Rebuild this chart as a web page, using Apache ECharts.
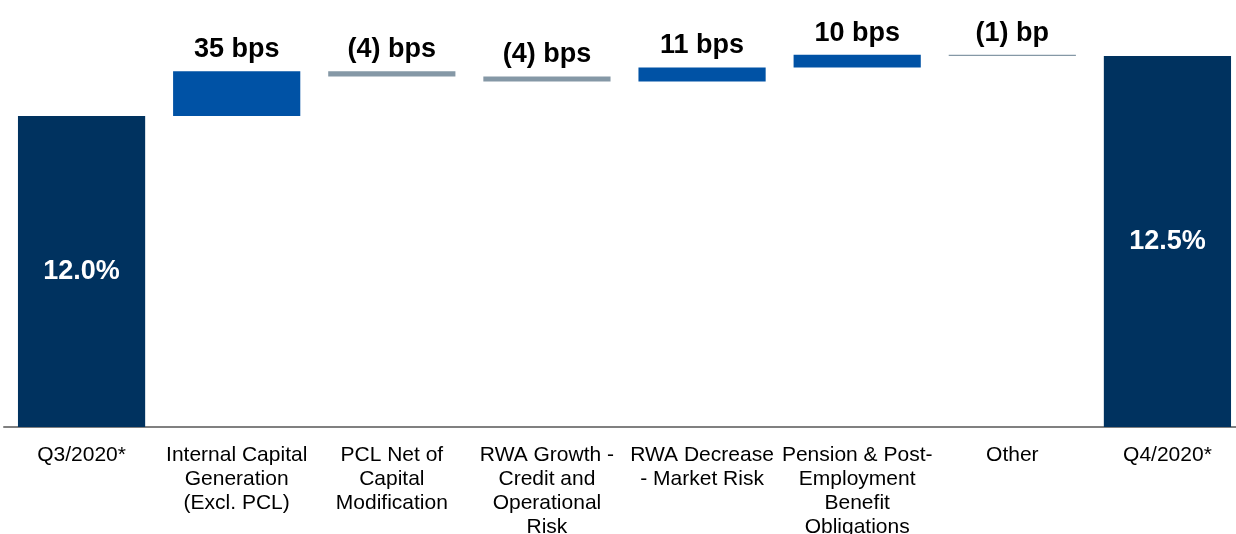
<!DOCTYPE html>
<html>
<head>
<meta charset="utf-8">
<title>Capital ratio walk</title>
<script src="https://cdn.jsdelivr.net/npm/echarts@6/dist/echarts.min.js"></script>
<style>
  html, body { margin: 0; padding: 0; background: #fff; }
  #chart { width: 1236px; height: 534px; }
</style>
</head>
<body>
<div id="chart"></div>
<script>
// category labels (line breaks as in the slide)
var categories = [
  "Q3/2020*",
  "Internal Capital\nGeneration\n(Excl. PCL)",
  "PCL Net of\nCapital\nModification",
  "RWA Growth -\nCredit and\nOperational\nRisk",
  "RWA Decrease\n- Market Risk",
  "Pension & Post-\nEmployment\nBenefit\nObligations",
  "Other",
  "Q4/2020*"
];
// opening and closing ratio, in %
var openingRatio = 12.0;
var closingRatio = 12.47;
// movements in basis points
var movementsBps = [35, -4, -4, 11, 10, -1];

var NAVY = "#00325F";
var BLUE = "#0052A5";
var GREY = "#8598A6";

function bpsText(v) {
  var unit = Math.abs(v) === 1 ? "bp" : "bps";
  return v < 0 ? "(" + Math.abs(v) + ") " + unit : v + " " + unit;
}

// build the invisible base and the visible pieces of the waterfall
var baseData = ["-"];
var barData = [{
  value: openingRatio,
  itemStyle: { color: NAVY },
  label: { show: true, position: "inside", color: "#fff", formatter: openingRatio.toFixed(1) + "%" }
}];
var level = openingRatio;
movementsBps.forEach(function (d) {
  var next = level + d / 100;
  baseData.push(Math.min(level, next));
  barData.push({
    value: Math.abs(d) / 100,
    itemStyle: { color: d > 0 ? BLUE : GREY },
    label: { show: true, position: "top", distance: 8, color: "#000", formatter: bpsText(d) }
  });
  level = next;
});
baseData.push("-");
barData.push({
  value: closingRatio,
  itemStyle: { color: NAVY },
  label: { show: true, position: "inside", color: "#fff", formatter: closingRatio.toFixed(1) + "%" }
});

var chart = echarts.init(document.getElementById("chart"));
chart.setOption({
  animation: false,
  textStyle: { fontFamily: "Liberation Sans, Arial, sans-serif" },
  grid: { left: 4, width: 1241, top: 20, bottom: 107, containLabel: false, outerBoundsMode: "none" },
  xAxis: {
    type: "category",
    data: categories,
    axisLine: { lineStyle: { color: "#808080", width: 2 } },
    axisTick: { show: false },
    axisLabel: {
      interval: 0,
      margin: 16,
      color: "#000",
      fontSize: 21,
      lineHeight: 24,
      fontFamily: "Liberation Sans, Arial, sans-serif"
    }
  },
  yAxis: {
    type: "value",
    min: 9.565,
    max: 12.752,
    show: false,
    splitLine: { show: false }
  },
  series: [
    {
      name: "base",
      type: "bar",
      stack: "walk",
      barWidth: "82%",
      itemStyle: { color: "transparent" },
      silent: true,
      data: baseData
    },
    {
      name: "walk",
      type: "bar",
      stack: "walk",
      barWidth: "82%",
      label: {
        fontSize: 27,
        fontWeight: "bold",
        fontFamily: "Liberation Sans, Arial, sans-serif"
      },
      data: barData
    }
  ]
});
</script>
</body>
</html>
